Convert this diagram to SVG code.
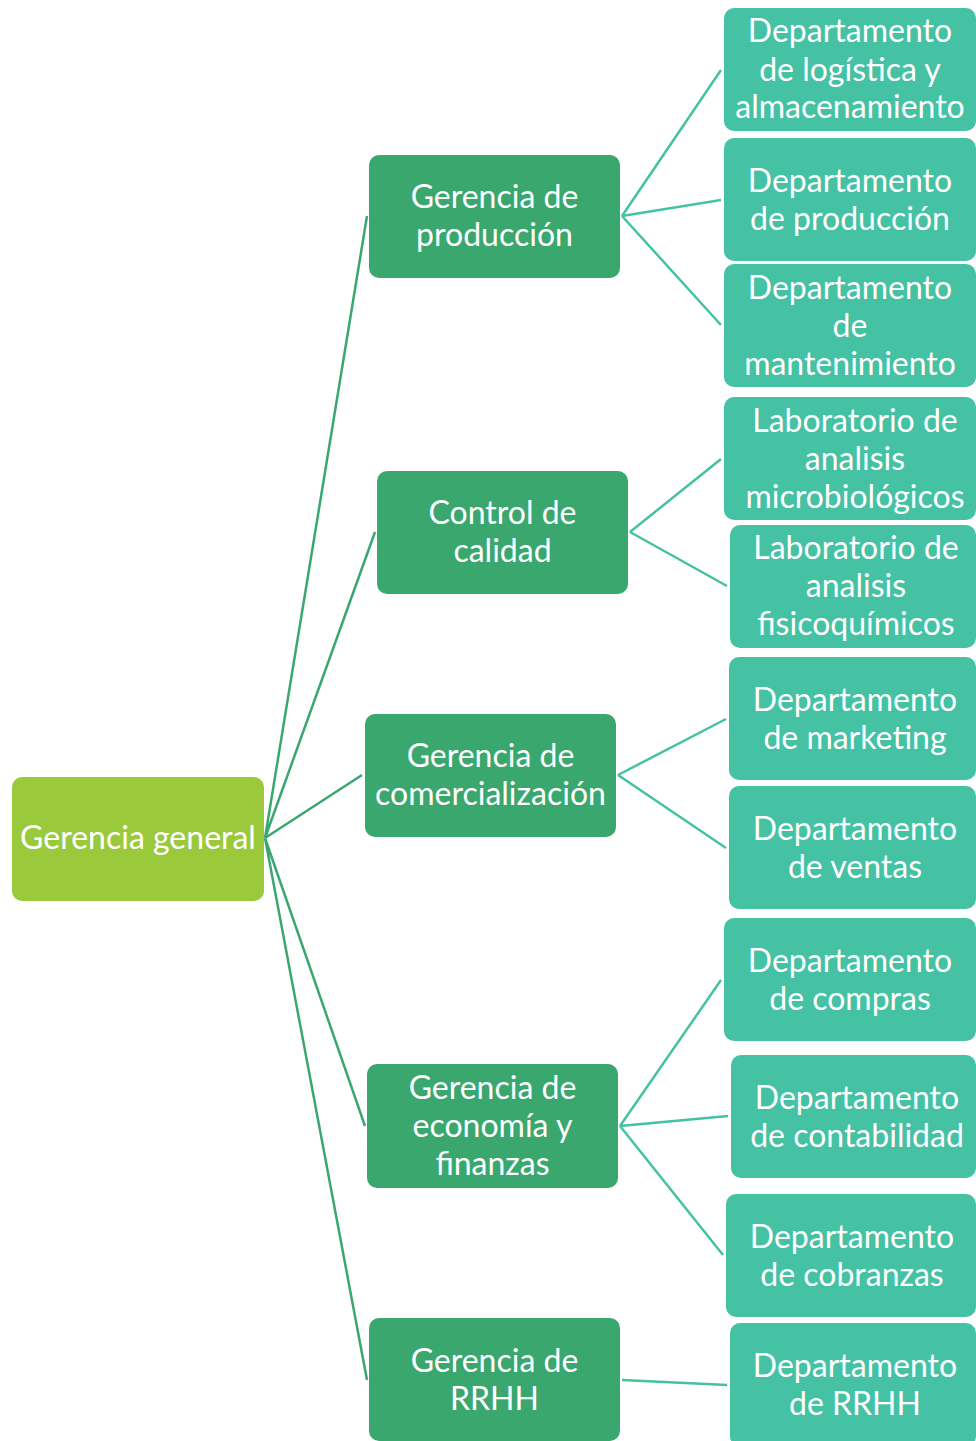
<svg xmlns="http://www.w3.org/2000/svg" width="976" height="1441" viewBox="0 0 976 1441">
<style>
.t{font-family:Lato,"Open Sans","Liberation Sans",sans-serif;font-size:32px;fill:#ffffff;text-anchor:middle}
.r{fill:#9aca3c}
.m{fill:#3aa76f}
.d{fill:#45c1a3}
.c1{stroke:#3aa76f;stroke-width:2.5;fill:none}
.c2{stroke:#45c1a3;stroke-width:2.5;fill:none}
</style>
<rect width="976" height="1441" fill="#ffffff"/>
<g id="connectors">
<path class="c1" d="M265,838 L367,216 M265,838 L375,532 M265,838 L362,775 M265,838 L365,1126 M265,838 L367,1380"/>
<path class="c2" d="M622,216 L721,70 M622,216 L721,200 M622,216 L721,325"/>
<path class="c2" d="M630,532 L721,459 M630,532 L727,586"/>
<path class="c2" d="M618,775 L726,719 M618,775 L726,848"/>
<path class="c2" d="M620,1126 L721,980 M620,1126 L728,1116 M620,1126 L723,1255"/>
<path class="c2" d="M622,1380 L727,1385"/>
</g>
<g id="root"><rect class="r" x="12" y="777" width="252" height="124" rx="10"/><text class="t" x="138" y="849">Gerencia general</text></g>
<g id="g-produccion"><rect class="m" x="369" y="155" width="251" height="123" rx="10"/><text class="t" x="494.5" y="208">Gerencia de</text><text class="t" x="494.5" y="246">producción</text></g>
<g id="g-calidad"><rect class="m" x="377" y="471" width="251" height="123" rx="10"/><text class="t" x="502.5" y="524">Control de</text><text class="t" x="502.5" y="562">calidad</text></g>
<g id="g-comercializacion"><rect class="m" x="365" y="714" width="251" height="123" rx="10"/><text class="t" x="490.5" y="767">Gerencia de</text><text class="t" x="490.5" y="805">comercialización</text></g>
<g id="g-economia"><rect class="m" x="367" y="1064" width="251" height="124" rx="10"/><text class="t" x="492.5" y="1099">Gerencia de</text><text class="t" x="492.5" y="1137">economía y</text><text class="t" x="492.5" y="1175">finanzas</text></g>
<g id="g-rrhh"><rect class="m" x="369" y="1318" width="251" height="123" rx="10"/><text class="t" x="494.5" y="1372">Gerencia de</text><text class="t" x="494.5" y="1410">RRHH</text></g>
<g id="d-logistica"><rect class="d" x="724" y="8" width="252" height="123" rx="10"/><text class="t" x="850" y="42">Departamento</text><text class="t" x="850" y="81">de logística y</text><text class="t" x="850" y="118">almacenamiento</text></g>
<g id="d-produccion"><rect class="d" x="724" y="138" width="252" height="123" rx="10"/><text class="t" x="850" y="192">Departamento</text><text class="t" x="850" y="230">de producción</text></g>
<g id="d-mantenimiento"><rect class="d" x="724" y="264" width="252" height="123" rx="10"/><text class="t" x="850" y="299">Departamento</text><text class="t" x="850" y="337">de</text><text class="t" x="850" y="375">mantenimiento</text></g>
<g id="d-micro"><rect class="d" x="724" y="397" width="252" height="123" rx="10"/><text class="t" x="855" y="432">Laboratorio de</text><text class="t" x="855" y="470">analisis</text><text class="t" x="855" y="508">microbiológicos</text></g>
<g id="d-fisico"><rect class="d" x="730" y="525" width="246" height="123" rx="10"/><text class="t" x="856" y="559">Laboratorio de</text><text class="t" x="856" y="597">analisis</text><text class="t" x="856" y="635">fisicoquímicos</text></g>
<g id="d-marketing"><rect class="d" x="729" y="657" width="247" height="123" rx="10"/><text class="t" x="855" y="711">Departamento</text><text class="t" x="855" y="749">de marketing</text></g>
<g id="d-ventas"><rect class="d" x="729" y="786" width="247" height="123" rx="10"/><text class="t" x="855" y="840">Departamento</text><text class="t" x="855" y="878">de ventas</text></g>
<g id="d-compras"><rect class="d" x="724" y="918" width="252" height="123" rx="10"/><text class="t" x="850" y="972">Departamento</text><text class="t" x="850" y="1010">de compras</text></g>
<g id="d-contabilidad"><rect class="d" x="731" y="1055" width="245" height="123" rx="10"/><text class="t" x="857" y="1109">Departamento</text><text class="t" x="857" y="1147">de contabilidad</text></g>
<g id="d-cobranzas"><rect class="d" x="726" y="1194" width="250" height="123" rx="10"/><text class="t" x="852" y="1248">Departamento</text><text class="t" x="852" y="1286">de cobranzas</text></g>
<g id="d-rrhh"><rect class="d" x="730" y="1323" width="246" height="123" rx="10"/><text class="t" x="855" y="1377">Departamento</text><text class="t" x="855" y="1415">de RRHH</text></g>
</svg>
